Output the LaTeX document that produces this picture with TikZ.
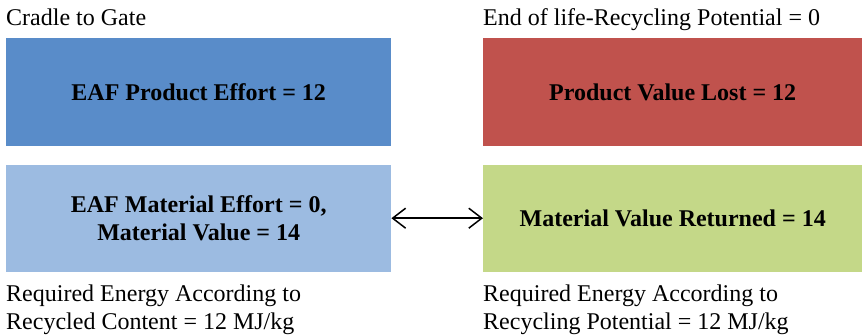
\documentclass[tikz,border=0pt]{standalone}
\usepackage{fontspec}
\setmainfont{Liberation Serif}
\usetikzlibrary{arrows.meta}

\definecolor{prodblue}{HTML}{598CC9}
\definecolor{matblue}{HTML}{9CBBE1}
\definecolor{lostred}{HTML}{C0524D}
\definecolor{retgreen}{HTML}{C4D888}

\tikzset{
  box/.style={rectangle, inner sep=0pt, anchor=north west, align=center,
    minimum height=108pt, font=\fontsize{24}{28}\selectfont\bfseries},
  caption/.style={inner sep=0pt, anchor=base west, align=left,
    font=\fontsize{24}{28}\selectfont}
}

\begin{document}
\begin{tikzpicture}[x=1pt,y=-1pt]
\useasboundingbox (0,0) rectangle (862,335);

\node[caption] (gate) at (6,25) {Cradle to Gate};
\node[caption] (eol) at (483,25) {End of life-Recycling Potential = 0};

\node[box, fill=prodblue, minimum width=385pt] (prod) at (6,38) {EAF Product Effort = 12};
\node[box, fill=lostred, minimum width=379pt] (lost) at (483,38) {Product Value Lost = 12};
\node[box, fill=matblue, minimum width=385pt, minimum height=107pt] (mat) at (6,164.5) {EAF Material Effort = 0,\\Material Value = 14};
\node[box, fill=retgreen, minimum width=379pt, minimum height=107pt] (ret) at (483,164.5) {Material Value Returned = 14};

\draw[line width=1.5pt, {Straight Barb[length=13pt,width=20pt]}-{Straight Barb[length=13pt,width=20pt]}] (mat.east) -- (ret.west);

\node[caption] (reqleft) at (6,329) {Required Energy According to\\Recycled Content = 12 MJ/kg};
\node[caption] (reqright) at (483,329) {Required Energy According to\\Recycling Potential = 12 MJ/kg};
\end{tikzpicture}
\end{document}
